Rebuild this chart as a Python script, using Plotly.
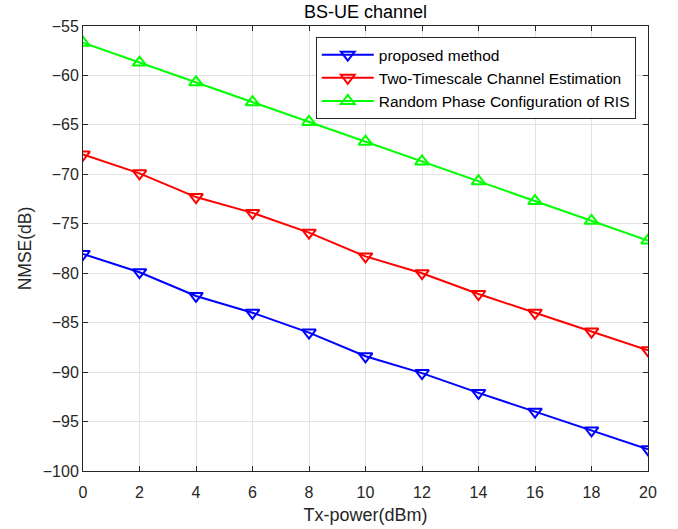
import plotly.graph_objects as go

tx_power = [0, 2, 4, 6, 8, 10, 12, 14, 16, 18, 20]
proposed = [-78.05, -79.9, -82.3, -84.0, -86.0, -88.4, -90.1, -92.1, -94.0, -95.9, -97.8]
two_timescale = [-68.0, -69.9, -72.3, -73.9, -75.9, -78.3, -80.0, -82.1, -84.0, -85.9, -87.8]
random_phase = [-56.7, -58.7, -60.7, -62.7, -64.7, -66.7, -68.7, -70.7, -72.7, -74.7, -76.7]

series = [
    ("proposed method", proposed, "#0000ff", "triangle-down-open"),
    ("Two-Timescale Channel Estimation", two_timescale, "#ff0000", "triangle-down-open"),
    ("Random Phase Configuration of RIS", random_phase, "#00ff00", "triangle-up-open"),
]

FONT = "Liberation Sans, Arial"

fig = go.Figure()
for name, ys, color, sym in series:
    fig.add_trace(go.Scatter(
        x=tx_power, y=ys, name=name, mode="lines+markers",
        line=dict(color=color, width=2),
        marker=dict(symbol=sym, size=12, color=color, line=dict(color=color, width=2)),
    ))

axis_common = dict(
    showline=True, linecolor="#262626", linewidth=1, mirror="ticks",
    ticks="inside", ticklen=5, tickcolor="#262626",
    showgrid=True, gridcolor="#e3e3e3", gridwidth=1,
    zeroline=False, automargin=False,
    tickfont=dict(family=FONT, size=16, color="#262626"),
)

fig.update_layout(
    width=678, height=529,
    margin=dict(l=83, r=30, t=26, b=58),
    paper_bgcolor="white", plot_bgcolor="white",
    title=dict(text="BS-UE channel", xref="paper", x=0.5, xanchor="center",
               y=0.978, yanchor="middle",
               font=dict(family=FONT, size=18, color="#000000")),
    xaxis=dict(range=[0, 20], dtick=2, tick0=0, ticklabelstandoff=7,
               title=dict(text="Tx-power(dBm)", standoff=8,
                          font=dict(family=FONT, size=18, color="#262626")),
               **axis_common),
    yaxis=dict(range=[-100, -55], dtick=5, tick0=-100,
               title=dict(text="NMSE(dB)", standoff=6,
                          font=dict(family=FONT, size=17.5, color="#262626")),
               **axis_common),
    legend=dict(x=0.412, y=0.975, xanchor="left", yanchor="top",
                bgcolor="white", bordercolor="#262626", borderwidth=1,
                font=dict(family=FONT, size=15.5, color="#000000"),
                itemwidth=52, tracegroupgap=0),
    showlegend=True,
)

fig.write_html("out.html", config={"displayModeBar": False},
               post_script="document.body.style.margin='0';")
